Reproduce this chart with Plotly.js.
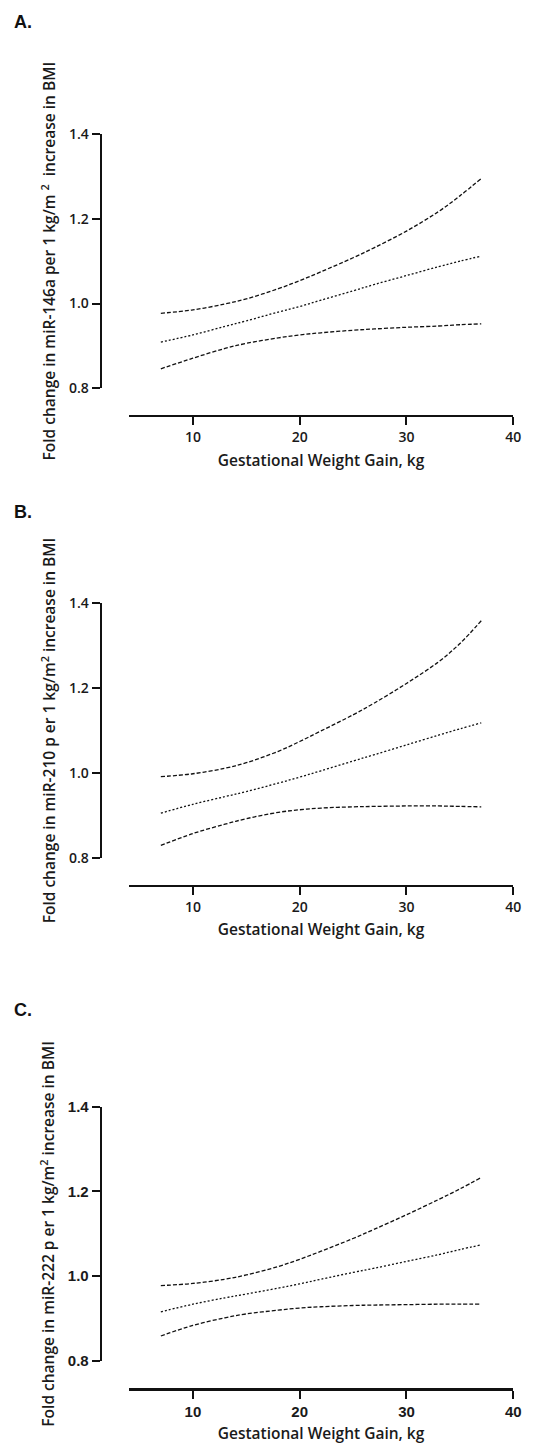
<!DOCTYPE html>
<html>
<head>
<meta charset="utf-8">
<script src="https://cdn.plot.ly/plotly-3.0.1.min.js"></script>
<style>html,body{margin:0;padding:0;background:#fff;}</style>
</head>
<body>
<div id="chart" style="width:537px;height:1445px;"></div>
<script>
// Gestational weight gain (kg)
const gwg = [7, 10, 13, 15, 18, 20, 22, 25, 27, 30, 33, 35, 37];

// Panel A: miR-146a
const a_upper = [0.977, 0.985, 0.999, 1.011, 1.035, 1.054, 1.075, 1.108, 1.132, 1.171, 1.217, 1.254, 1.295];
const a_mid   = [0.909, 0.926, 0.946, 0.959, 0.980, 0.993, 1.008, 1.030, 1.045, 1.066, 1.087, 1.100, 1.112];
const a_lower = [0.846, 0.871, 0.894, 0.906, 0.919, 0.926, 0.931, 0.937, 0.940, 0.944, 0.947, 0.950, 0.952];

// Panel B: miR-210
const b_upper = [0.991, 0.998, 1.011, 1.024, 1.051, 1.074, 1.099, 1.137, 1.165, 1.211, 1.262, 1.305, 1.359];
const b_mid   = [0.905, 0.926, 0.944, 0.956, 0.976, 0.990, 1.005, 1.028, 1.043, 1.066, 1.089, 1.104, 1.118];
const b_lower = [0.829, 0.857, 0.879, 0.892, 0.907, 0.913, 0.917, 0.920, 0.921, 0.922, 0.922, 0.921, 0.920];

// Panel C: miR-222
const c_upper = [0.978, 0.983, 0.993, 1.003, 1.023, 1.040, 1.059, 1.089, 1.111, 1.145, 1.181, 1.206, 1.233];
const c_mid   = [0.916, 0.934, 0.949, 0.958, 0.972, 0.982, 0.993, 1.009, 1.019, 1.035, 1.051, 1.063, 1.074];
const c_lower = [0.859, 0.884, 0.902, 0.911, 0.920, 0.925, 0.928, 0.931, 0.932, 0.933, 0.934, 0.934, 0.934];

const xTicks = [10, 20, 30, 40];
const yTicks = [0.8, 1.0, 1.2, 1.4];
const panelLabels = ['A.', 'B.', 'C.'];
const xTitle = 'Gestational Weight Gain, kg';
const yTitles = [
  'Fold change in miR-146a per 1 kg/m <sup>2</sup>  increase in BMI',
  'Fold change in miR-210 p er 1 kg/m<sup>2</sup> increase in BMI',
  'Fold change in miR-222 p er 1 kg/m<sup>2</sup> increase in BMI'
];

const panels = [
  {up: a_upper, mid: a_mid, lo: a_lower},
  {up: b_upper, mid: b_mid, lo: b_lower},
  {up: c_upper, mid: c_mid, lo: c_lower}
];

const W = 537, H = 1445;
// pixel geometry per panel: y of 1.4, y of 0.8, y of x-axis line, y of panel label
const geo = [
  {top: 134.0, bot: 388.3, xax: 415.7, lab: 21.5},
  {top: 603.3, bot: 857.7, xax: 885.5, lab: 512},
  {top: 1106.7, bot: 1361.0, xax: 1389.3, lab: 1010}
];
const xDom = [128.8 / W, 513.3 / W];
const yPos = 100.7 / W;

const traces = [];
const layout = {
  width: W, height: H,
  margin: {l: 0, r: 0, t: 0, b: 0},
  paper_bgcolor: '#fff', plot_bgcolor: 'rgba(0,0,0,0)',
  showlegend: false,
  annotations: []
};

const tickFontAB = {family: 'Open Sans, sans-serif', size: 14, color: '#1a1a1a', weight: 600};
const tickFontC = {family: 'Liberation Sans, Arial, sans-serif', size: 15, color: '#1a1a1a', weight: 700};
const titleFont = {family: 'Open Sans, sans-serif', size: 15.5, color: '#1a1a1a', weight: 600};

panels.forEach((p, i) => {
  const sfx = i === 0 ? '' : String(i + 1);
  const xa = 'x' + sfx, ya = 'y' + sfx;
  const lineBase = {x: gwg, xaxis: xa, yaxis: ya, mode: 'lines', hoverinfo: 'skip'};
  traces.push(Object.assign({}, lineBase, {y: p.up, line: {color: '#111', width: 1.3, dash: '4px,2px', shape: 'spline', smoothing: 1}}));
  traces.push(Object.assign({}, lineBase, {y: p.mid, line: {color: '#111', width: 1.3, dash: '2px,2px', shape: 'spline', smoothing: 1}}));
  traces.push(Object.assign({}, lineBase, {y: p.lo, line: {color: '#111', width: 1.3, dash: '4px,2px', shape: 'spline', smoothing: 1}}));

  const g = geo[i];
  const tf = i === 2 ? tickFontC : tickFontAB;
  layout['xaxis' + sfx] = {
    domain: xDom, range: [4, 40], anchor: 'free', position: 1 - g.xax / H,
    showline: true, linewidth: 2.6, linecolor: '#111', mirror: false,
    ticks: 'outside', ticklen: 8, tickwidth: 2, tickcolor: '#111',
    tickvals: xTicks, ticktext: xTicks.map(String), tickfont: tf,
    showgrid: false, zeroline: false, fixedrange: true,
    title: {text: xTitle, font: titleFont, standoff: 9}
  };
  layout['yaxis' + sfx] = {
    domain: [1 - g.bot / H, 1 - g.top / H], range: [0.8, 1.4], anchor: 'free', position: yPos,
    showline: true, linewidth: 2.6, linecolor: '#111',
    ticks: 'outside', ticklen: 8, tickwidth: 2, tickcolor: '#111',
    tickvals: yTicks, ticktext: yTicks.map(v => v.toFixed(1)), tickfont: tf,
    showgrid: false, zeroline: false, fixedrange: true,
    title: {text: yTitles[i], font: titleFont, standoff: 8}
  };
  layout.annotations.push({
    text: '<b>' + panelLabels[i] + '</b>', xref: 'paper', yref: 'paper',
    x: 12 / W, y: 1 - g.lab / H, xanchor: 'left', yanchor: 'middle', showarrow: false,
    font: {family: 'Liberation Sans, Arial, sans-serif', size: 18, color: '#111'}
  });
});

Plotly.newPlot('chart', traces, layout, {staticPlot: true, displayModeBar: false});
</script>
</body>
</html>
